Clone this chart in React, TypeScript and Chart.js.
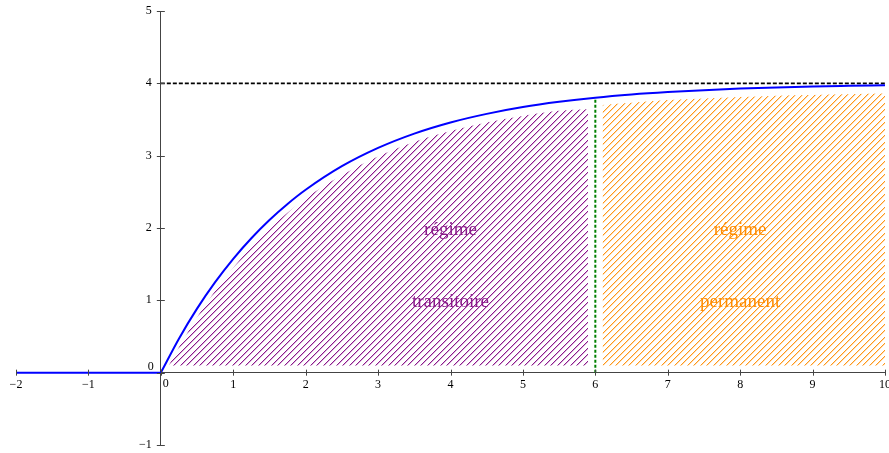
import React, { useEffect, useRef } from "react";
import { Chart, registerables } from "chart.js";

Chart.register(...registerables);

// Axis ticks
const xTicks = [-2, -1, 0, 1, 2, 3, 4, 5, 6, 7, 8, 9, 10];
const yTicks = [-1, 0, 1, 2, 3, 4, 5];

// Step response
const flatX = [-2, 0];
const flatY = [0, 0];
const curveX = [0, 0.25, 0.5, 0.75, 1, 1.25, 1.5, 1.75, 2, 2.5, 3, 3.5, 4, 4.5, 5, 5.5, 6, 6.5, 7, 7.5, 8, 8.5, 9, 9.5, 10];
const curveY = [0, 0.47, 0.885, 1.251, 1.574, 1.859, 2.111, 2.332, 2.528, 2.854, 3.107, 3.305, 3.459, 3.578, 3.672, 3.744, 3.801, 3.845, 3.879, 3.906, 3.927, 3.943, 3.956, 3.965, 3.973];

// Final value (dotted) and the boundary at t = 6 (dashed)
const finalX = [0, 10];
const finalY = [4, 4];
const boundaryX = [6, 6];
const boundaryY = [0, 3.8];

// Hatched regions (top edges)
const transX = [0.11, 0.25, 0.5, 0.75, 1, 1.25, 1.5, 2, 2.5, 3, 3.5, 4, 4.5, 5, 5.5, 5.9];
const transY = [0.1, 0.35, 0.765, 1.13, 1.45, 1.74, 1.99, 2.41, 2.73, 2.99, 3.19, 3.34, 3.46, 3.55, 3.62, 3.64];
const permX = [6.1, 6.5, 7, 7.5, 8, 8.5, 9, 9.5, 10];
const permY = [3.7, 3.73, 3.77, 3.79, 3.81, 3.83, 3.84, 3.85, 3.86];
const hatchBase = 0.1;

// Annotation texts
const labelTexts = ["régime", "transitoire", "régime", "permanent"];
const labelX = [4, 4, 8, 8];
const labelY = [2, 1, 2, 1];
const labelColor = ["#8a1a8a", "#8a1a8a", "#ff8c00", "#ff8c00"];

const SERIF = '"Liberation Serif", "Times New Roman", serif';
const PURPLE: [number, number, number] = [128, 0, 128];
const ORANGE: [number, number, number] = [255, 140, 0];

// Target plot rectangle inside the 889x453 canvas
const AREA = { left: 16, right: 885, top: 11, bottom: 445 };

function zip(xs: number[], ys: number[]) {
  return xs.map((x, i) => ({ x, y: ys[i] }));
}

function makeHatch(rgb: [number, number, number]): CanvasPattern | string {
  const s = 13;
  const col = `rgba(${rgb[0]},${rgb[1]},${rgb[2]},0.9)`;
  const soft = `rgba(${rgb[0]},${rgb[1]},${rgb[2]},0.3)`;
  const c = document.createElement("canvas");
  c.width = s;
  c.height = s;
  const g = c.getContext("2d");
  if (!g) return col;
  for (const off of [12, 5]) {
    for (let i = 0; i < s; i++) {
      const y = (((off - i) % s) + s) % s;
      g.fillStyle = col;
      g.fillRect(i, y, 1, 1);
      g.fillStyle = soft;
      g.fillRect(i, (y + 1) % s, 1, 1);
    }
  }
  const p = g.createPattern(c, "repeat");
  return p || col;
}

const minus = (v: number) => (v < 0 ? "\u2212" + Math.abs(v) : String(v));

const decorPlugin = {
  id: "decor",
  afterDatasetsDraw(chart: any) {
    const { ctx } = chart;
    const xs = chart.scales.x;
    const ys = chart.scales.y;
    ctx.save();
    ctx.font = `19px ${SERIF}`;
    ctx.textAlign = "center";
    ctx.textBaseline = "middle";
    labelTexts.forEach((t, i) => {
      ctx.fillStyle = labelColor[i];
      ctx.fillText(t, xs.getPixelForValue(labelX[i]), ys.getPixelForValue(labelY[i]) + 2);
    });
    ctx.restore();
  },
  afterDraw(chart: any) {
    const { ctx } = chart;
    const xs = chart.scales.x;
    const ys = chart.scales.y;
    const x0 = xs.getPixelForValue(0);
    const y0 = ys.getPixelForValue(0);
    ctx.save();
    ctx.strokeStyle = "#444";
    ctx.lineWidth = 1;
    ctx.beginPath();
    xTicks.forEach((v) => {
      const px = Math.round(xs.getPixelForValue(v)) + 0.5;
      ctx.moveTo(px, y0 - 3);
      ctx.lineTo(px, y0 + 3);
    });
    yTicks.forEach((v) => {
      const py = Math.round(ys.getPixelForValue(v)) + 0.5;
      ctx.moveTo(x0 - 4, py);
      ctx.lineTo(x0 + 4, py);
    });
    ctx.stroke();
    ctx.fillStyle = "#000";
    ctx.font = `12px ${SERIF}`;
    ctx.textBaseline = "middle";
    // y tick labels
    ctx.textAlign = "right";
    yTicks.forEach((v) => {
      if (v === 0) return;
      ctx.fillText(minus(v), x0 - 9, ys.getPixelForValue(v));
    });
    ctx.fillText("0", x0 - 7, y0 - 6);
    ctx.textAlign = "center";
    ctx.fillText("0", x0 + 5, y0 + 11);
    ctx.restore();
  },
};

export default function App() {
  const ref = useRef<HTMLCanvasElement | null>(null);

  useEffect(() => {
    if (!ref.current) return;
    const padding = { left: 16, right: 4, top: 11, bottom: 8 };
    const chart = new Chart(ref.current, {
      type: "line",
      data: {
        datasets: [
          {
            data: zip(flatX, flatY),
            borderColor: "#0000ff",
            borderWidth: 2,
            pointRadius: 0,
            fill: false,
            order: 0,
          },
          {
            data: zip(curveX, curveY),
            borderColor: "#0000ff",
            borderWidth: 2,
            pointRadius: 0,
            cubicInterpolationMode: "monotone",
            fill: false,
            order: 0,
          },
          {
            data: zip(finalX, finalY),
            borderColor: "#000",
            borderWidth: 1.6,
            borderDash: [4, 2],
            pointRadius: 0,
            fill: false,
            order: 1,
          },
          {
            data: zip(boundaryX, boundaryY),
            borderColor: "#008000",
            borderWidth: 2,
            borderDash: [3, 2],
            pointRadius: 0,
            fill: false,
            order: 1,
          },
          {
            data: zip(transX, transY),
            borderWidth: 0,
            borderColor: "rgba(0,0,0,0)",
            backgroundColor: makeHatch(PURPLE) as any,
            pointRadius: 0,
            cubicInterpolationMode: "monotone",
            fill: { value: hatchBase },
            order: 5,
          },
          {
            data: zip(permX, permY),
            borderWidth: 0,
            borderColor: "rgba(0,0,0,0)",
            backgroundColor: makeHatch(ORANGE) as any,
            pointRadius: 0,
            cubicInterpolationMode: "monotone",
            fill: { value: hatchBase },
            order: 5,
          },
        ],
      },
      options: {
        animation: false,
        responsive: false,
        events: [],
        layout: { padding },
        plugins: {
          legend: { display: false },
          tooltip: { enabled: false },
          title: { display: false },
        },
        scales: {
          x: {
            type: "linear",
            position: { y: 0 } as any,
            min: -2,
            max: 10,
            grid: { display: false, drawTicks: false, tickLength: 0 },
            border: { display: true, color: "#444", width: 1 },
            afterFit: (s: any) => {
              s.paddingLeft = 0;
              s.paddingRight = 0;
            },
            ticks: {
              stepSize: 1,
              padding: 5,
              color: "#000",
              font: { family: SERIF, size: 12 },
              maxRotation: 0,
              autoSkip: false,
              callback: (v: any) => (Number(v) === 0 ? "" : minus(Number(v))),
            },
          },
          y: {
            type: "linear",
            position: { x: 0 } as any,
            min: -1,
            max: 5,
            grid: { display: false, drawTicks: false, tickLength: 0 },
            border: { display: true, color: "#444", width: 1 },
            afterFit: (s: any) => {
              s.paddingTop = 0;
              s.paddingBottom = 0;
            },
            ticks: { display: false, stepSize: 1 },
          },
        },
      },
      plugins: [decorPlugin],
    });
    // nudge layout padding so the plot rectangle lands where the reference has it
    for (let k = 0; k < 3; k++) {
      const a = chart.chartArea;
      padding.left += AREA.left - a.left;
      padding.right += a.right - AREA.right;
      padding.top += AREA.top - a.top;
      padding.bottom += a.bottom - AREA.bottom;
      (chart.options as any).layout.padding = { ...padding };
      chart.update();
    }
    return () => chart.destroy();
  }, []);

  return (
    <div style={{ position: "absolute", left: 0, top: 0, width: 889, height: 453 }}>
      <canvas ref={ref} width={889} height={453} />
    </div>
  );
}
